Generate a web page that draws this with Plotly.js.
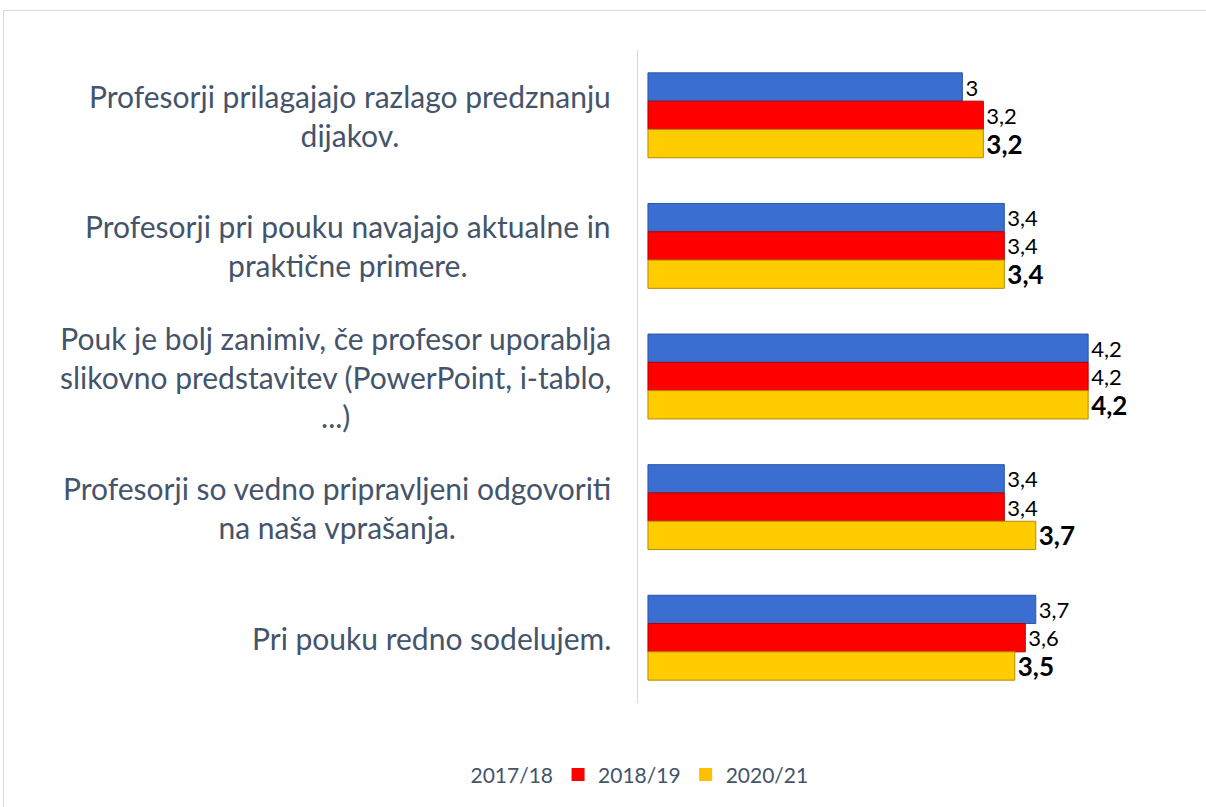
<!DOCTYPE html>
<html>
<head>
<meta charset="utf-8">
<script src="https://cdn.plot.ly/plotly-3.0.1.min.js"></script>
<style>
  html, body { margin: 0; padding: 0; background: #ffffff; }
  #wrap { position: relative; width: 1206px; height: 807px; overflow: hidden; }
  #chart { position: absolute; left: 0; top: 0; width: 1206px; height: 807px; }
  #frame { position: absolute; left: 3px; top: 10px; width: 1220px; height: 820px;
           border: 1px solid #d9d9d9; pointer-events: none; box-sizing: border-box; }
</style>
</head>
<body>
<div id="wrap">
  <div id="chart"></div>
  <div id="frame"></div>
</div>
<script>
// ---- data ----
const categories = [
  "Profesorji prilagajajo razlago predznanju<br>dijakov.",
  "Profesorji pri pouku navajajo aktualne in<br>praktične primere.",
  "Pouk je bolj zanimiv, če profesor uporablja<br>slikovno predstavitev (PowerPoint, i-tablo,<br>...)",
  "Profesorji so vedno pripravljeni odgovoriti<br>na naša vprašanja.",
  "Pri pouku redno sodelujem."
];
const seriesNames = ["2017/18", "2018/19", "2020/21"];
const v2017 = [3.0, 3.4, 4.2, 3.4, 3.7];
const v2018 = [3.2, 3.4, 4.2, 3.4, 3.6];
const v2020 = [3.2, 3.4, 4.2, 3.7, 3.5];

// ---- styles ----
const fillColors = ["#3A6FD1", "#FF0000", "#FFCC00"];
const edgeColors = ["#2A55A6", "#B00000", "#B88A00"];
const legendColors = ["rgba(0,0,0,0)", "#FF0000", "#FFC000"];
const FONT = "Lato, 'Open Sans', 'Liberation Sans', sans-serif";

const fmt = v => String(v).replace(".", ",");

const allSeries = [v2017, v2018, v2020];
const traces = allSeries.map((vals, i) => ({
  type: "bar",
  orientation: "h",
  name: seriesNames[i],
  y: categories,
  x: vals,
  text: vals.map(fmt),
  textposition: "outside",
  constraintext: "none",
  cliponaxis: false,
  textfont: {
    family: FONT,
    size: i === 2 ? 26 : 22,
    color: "#000000",
    weight: i === 2 ? "bold" : "normal"
  },
  marker: { color: fillColors[i], line: { color: edgeColors[i], width: 1 } },
  showlegend: false,
  hoverinfo: "x+name"
}));

// legend entries (separate, so the first key can be invisible like the reference)
seriesNames.forEach((n, i) => {
  traces.push({
    type: "scatter",
    mode: "markers",
    x: [null], y: [null],
    name: n,
    marker: { symbol: "square", size: 13, color: legendColors[i] },
    showlegend: true,
    hoverinfo: "skip"
  });
});

const annotations = categories.map(c => ({
  xref: "paper", yref: "y",
  x: -0.047, y: c,
  xanchor: "right", yanchor: "middle",
  align: "center",
  text: c,
  showarrow: false,
  font: { family: FONT, size: 30, color: "#44546A" }
}));

const layout = {
  width: 1206, height: 807,
  margin: { l: 638, r: 34, t: 50, b: 92, pad: 0 },
  paper_bgcolor: "#ffffff",
  plot_bgcolor: "#ffffff",
  barmode: "group",
  bargap: 0.35,
  bargroupgap: 0,
  separators: ",.",
  xaxis: {
    range: [-0.095, 5.0],
    showgrid: false, zeroline: false, showline: false,
    showticklabels: false, ticks: ""
  },
  yaxis: {
    type: "category",
    autorange: "reversed",
    showgrid: false, zeroline: false,
    showline: true, linecolor: "#d9d9d9", linewidth: 1,
    showticklabels: false, ticks: ""
  },
  showlegend: true,
  legend: {
    orientation: "h",
    traceorder: "normal",
    x: -0.03, xanchor: "center",
    y: -0.11, yanchor: "middle",
    font: { family: FONT, size: 21, color: "#44546A" },
    bgcolor: "rgba(0,0,0,0)"
  },
  annotations: annotations
};

Plotly.newPlot("chart", traces, layout, { displayModeBar: false, staticPlot: true });
</script>
</body>
</html>
